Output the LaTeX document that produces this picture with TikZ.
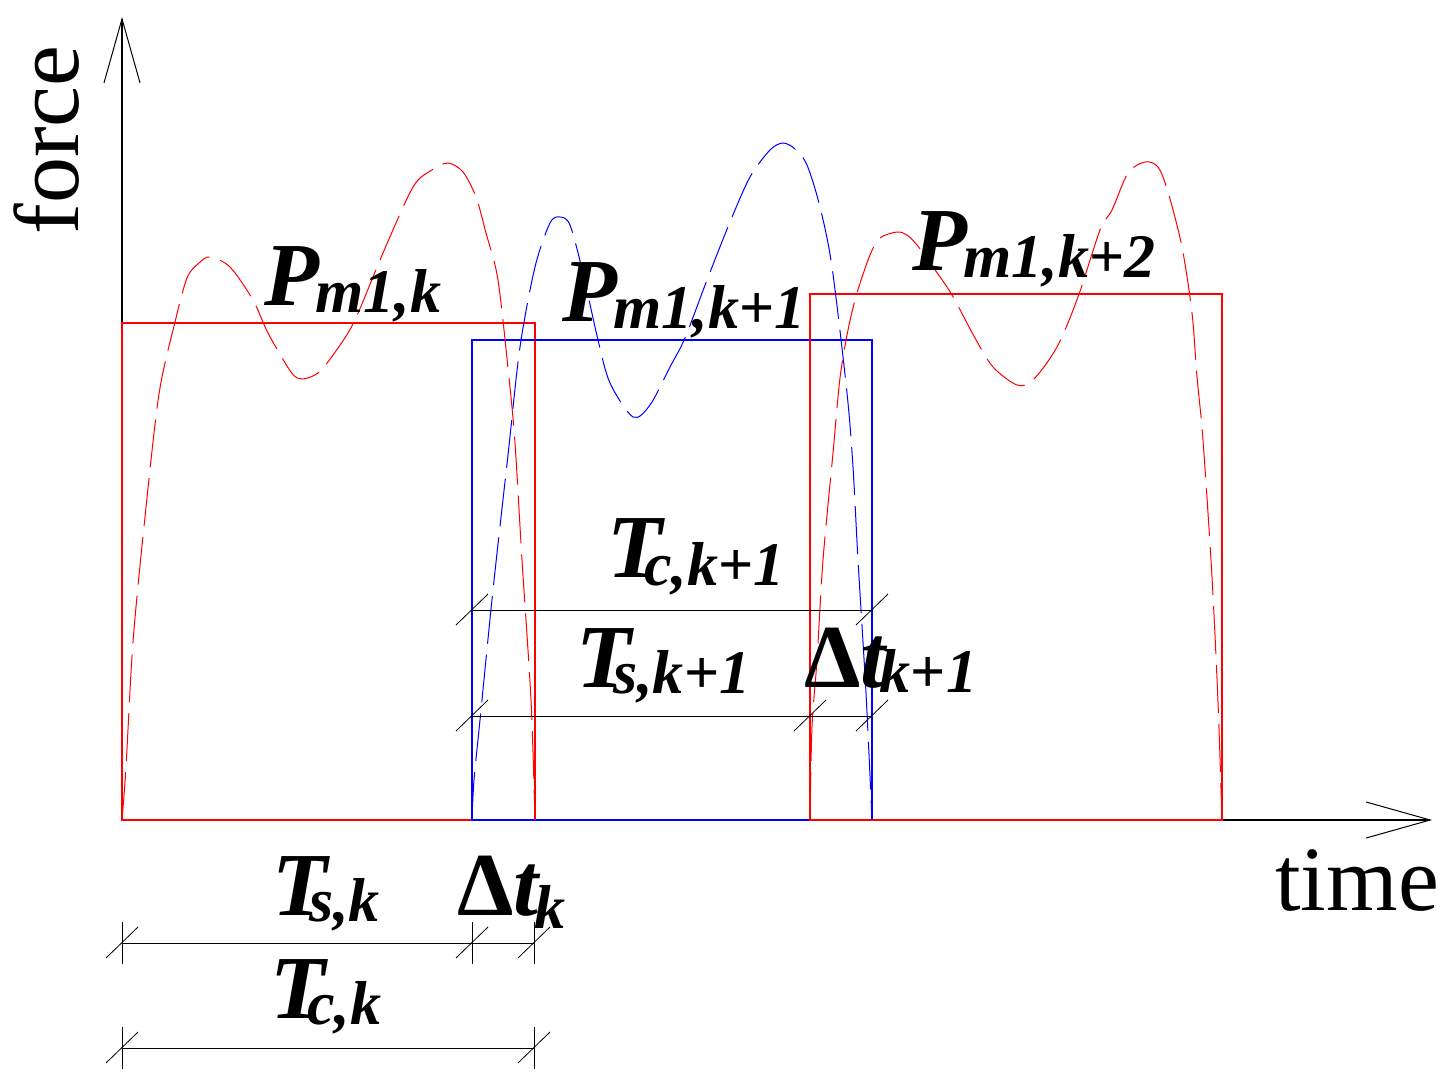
\documentclass[tikz,border=0pt]{standalone}
\usepackage{fontspec}
\setmainfont{Liberation Serif}
\usetikzlibrary{arrows.meta}

\newcommand{\labfont}{\fontsize{45}{50}\selectfont\bfseries\itshape}
\newcommand{\subfont}{\fontsize{31}{34}\selectfont\bfseries\itshape}
\newcommand{\lowsub}[3]{\kern#1\raisebox{-#2}{\subfont #3}}
\newcommand{\Dl}{{\upshape\symbol{"0394}}}

\begin{document}
\begin{tikzpicture}[
    x=0.5pt, y=-0.5pt,
    axis/.style={line width=0.7pt, -{Straight Barb[length=32pt, width=18pt, line width=0.5pt]}},
    redload/.style={red, line width=0.6pt},
    blueload/.style={blue, line width=0.6pt},
    redcurve/.style={red, line width=0.5pt, dash pattern=on 24pt off 5.5pt},
    bluecurve/.style={blue, line width=0.5pt, dash pattern=on 24pt off 5.5pt},
    dimline/.style={black, line width=0.5pt},
    slash/.style={black, line width=0.4pt},
    lab/.style={inner sep=0pt, anchor=base west, font=\labfont},
    axlab/.style={inner sep=0pt, anchor=base west, font=\fontsize{46}{50}\selectfont}
]
\useasboundingbox (0,0) rectangle (1448,1082);

% axes
\coordinate (O) at (122,820);
\coordinate (ytip) at (122,17);
\coordinate (xtip) at (1432,820);
\draw[axis] (O) -- (ytip);
\draw[axis] (O) -- (xtip);
\node[axlab, rotate=90] (force) at (78,235) {force};
\node[axlab] (time) at (1275,910) {time};

% load blocks
\draw[redload] (122,820) rectangle (535,323);
\draw[blueload] (472,820) rectangle (872,340);
\draw[redload] (810,820) rectangle (1222,294);

% measured forces
\draw[redcurve] plot[smooth, tension=0.5] coordinates {
    (122,820) (126,767) (133,642) (145,517) (159,394) (175,322) (187,278)
    (199,263) (210,257) (230,267) (253,300) (268,333) (291,372) (302,379)
    (318,373) (333,355) (354,322) (383,253) (413,187) (432,170) (448,163)
    (463,172) (476,197) (486,233) (498,280) (509,378) (515,443) (522,560)
    (531,700) (535,820)};
\draw[bluecurve] plot[smooth, tension=0.5] coordinates {
    (472,820) (474,780) (480,720) (493,590) (508,455) (520,347) (535,267)
    (550,223) (560,217) (570,225) (583,273) (598,340) (610,383) (633,417)
    (650,405) (670,367) (685,338) (707,280) (730,222) (750,177) (770,150)
    (783,143) (795,149) (807,165) (820,207) (832,267) (847,393) (853,467)
    (858,560) (866,693) (872,820)};
\draw[redcurve] plot[smooth, tension=0.5] coordinates {
    (810,820) (812,727) (817,660) (823,560) (833,453) (840,378) (848,330)
    (857,293) (870,255) (880,238) (897,232) (907,235) (917,245) (933,267)
    (952,295) (975,338) (993,367) (1017,385) (1033,380) (1057,347) (1078,297)
    (1100,230) (1112,210) (1128,173) (1145,162) (1158,167) (1168,192)
    (1182,247) (1192,313) (1197,377) (1203,440) (1212,577) (1218,702)
    (1222,820)};

% dimension lines
\coordinate (s0) at (122,943);
\coordinate (s1) at (472,943);
\coordinate (s2) at (534,943);
\coordinate (c0) at (122,1048);
\coordinate (c2) at (534,1048);
\coordinate (u0) at (472,610);
\coordinate (u1) at (872,610);
\coordinate (v0) at (472,716);
\coordinate (v1) at (810,716);
\coordinate (v2) at (872,716);

\draw[dimline] (s0) -- (s2);
\draw[dimline] (c0) -- (c2);
\draw[dimline] (u0) -- (u1);
\draw[dimline] (v0) -- (v2);
\foreach \p in {s0,s1,s2,c0,c2}
    \draw[dimline] ([yshift=-10.5pt]\p) -- ([yshift=10.5pt]\p);
\foreach \p in {s0,s1,s2,c0,c2,u0,u1,v0,v1,v2}
    \draw[slash] ([shift={(-16,15)}]\p) -- ([shift={(16,-16)}]\p);

% labels
\node[lab] (Pk) at (264,305) {P\lowsub{-2pt}{3.5pt}{m1,k}};
\node[lab] (Pk1) at (562,321) {P\lowsub{-2pt}{3.5pt}{m1,k{\upshape+}1}};
\node[lab] (Pk2) at (912,270) {P\lowsub{-2pt}{3.5pt}{m1,k{\upshape+}2}};
\node[lab] (Tck1) at (607,577) {T\lowsub{-9pt}{4pt}{c,k{\upshape+}1}};
\node[lab] (Tsk1) at (576,687) {T\lowsub{-9pt}{3pt}{s,k{\upshape+}1}};
\node[lab] (dtk1) at (804,687) {\Dl t\lowsub{-3pt}{2.5pt}{k{\upshape+}1}};
\node[lab] (Tsk) at (272,915) {T\lowsub{-9pt}{3pt}{s,k}};
\node[lab] (dtk) at (457,915) {\Dl t\lowsub{-2pt}{6.5pt}{k}};
\node[lab] (Tck) at (270,1018) {T\lowsub{-9pt}{3pt}{c,k}};

\end{tikzpicture}
\end{document}
